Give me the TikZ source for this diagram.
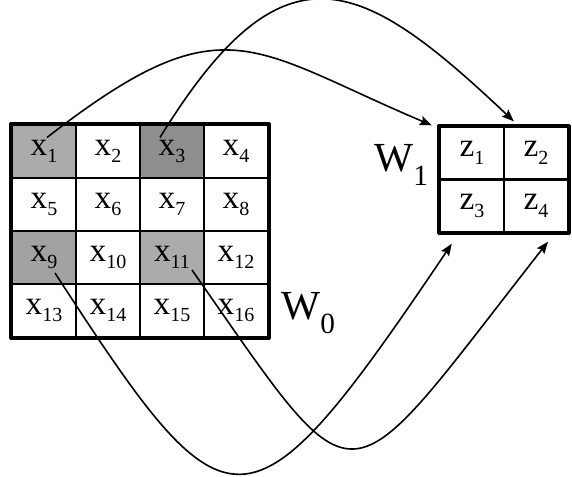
\documentclass[tikz,border=0pt]{standalone}
\usepackage{fontspec}
\setmainfont{Liberation Serif}
\usepackage{tikz}
\usetikzlibrary{arrows.meta}
\definecolor{shadeA}{HTML}{ABABAB}
\definecolor{shadeB}{HTML}{8E8E8E}
\definecolor{shadeC}{HTML}{A2A2A2}
\newcommand{\lsub}[1]{\raisebox{-0.5ex}{\fontsize{15}{15}\selectfont #1}}
\newcommand{\wsub}[1]{\raisebox{-0.7ex}{\fontsize{22}{22}\selectfont #1}}
\tikzset{
  every picture/.style={line join=round, >=Stealth},
  cell/.style={draw, line width=1.8pt, minimum width=48pt, minimum height=39.75pt,
    inner sep=0pt, font=\fontsize{25}{27}\selectfont},
  frame/.style={line width=2.2pt},
  wlabel/.style={anchor=base west, inner sep=0pt, font=\fontsize{31}{33}\selectfont},
  flow/.style={line width=1.2pt, -{Stealth[length=9pt,width=7pt,inset=1.5pt]}},
}

\begin{document}
\begin{tikzpicture}[x=0.75pt,y=-0.75pt]
\useasboundingbox (0,0) rectangle (572,477);
% input window W0
\foreach \i/\f in {1/shadeA,2/white,3/shadeB,4/white,5/white,6/white,7/white,8/white,
                   9/shadeC,10/white,11/shadeA,12/white,13/white,14/white,15/white,16/white}{
  \pgfmathtruncatemacro\r{(\i-1)/4}
  \pgfmathtruncatemacro\c{mod(\i-1,4)}
  \node[cell,fill=\f] (x\i) at (44+64*\c,151.5+53*\r) {x\lsub{\i}};
}
\draw[frame] (x1.north west) rectangle (x16.south east);
\node[wlabel] (w0) at (281,320) {W\wsub{0}};
% output window W1
\foreach \i in {1,...,4}{
  \pgfmathtruncatemacro\r{(\i-1)/2}
  \pgfmathtruncatemacro\c{mod(\i-1,2)}
  \node[cell] (z\i) at (472+64*\c,153+53*\r) {z\lsub{\i}};
}
\draw[frame] (z1.north west) rectangle (z4.south east);
\node[wlabel] (w1) at (374,172) {W\wsub{1}};
% connectors
\draw[flow] ([shift={(3,-14)}]x1.center) .. controls (224,0) and (249,48) .. ([shift={(-7,0)}]z1.north west);
\draw[flow] ([shift={(-12,-14)}]x3.center) .. controls (284,-64) and (361,-23) .. ([shift={(11,-4)}]z2.north west);
\draw[flow] ([shift={(11,15.5)}]x9.center) .. controls (229,541) and (246,549) .. ([shift={(13,10)}]z3.south west);
\draw[flow] ([shift={(20,12.5)}]x11.center) .. controls (364,516) and (339,508) .. ([shift={(12,8)}]z4.south);
\end{tikzpicture}
\end{document}
